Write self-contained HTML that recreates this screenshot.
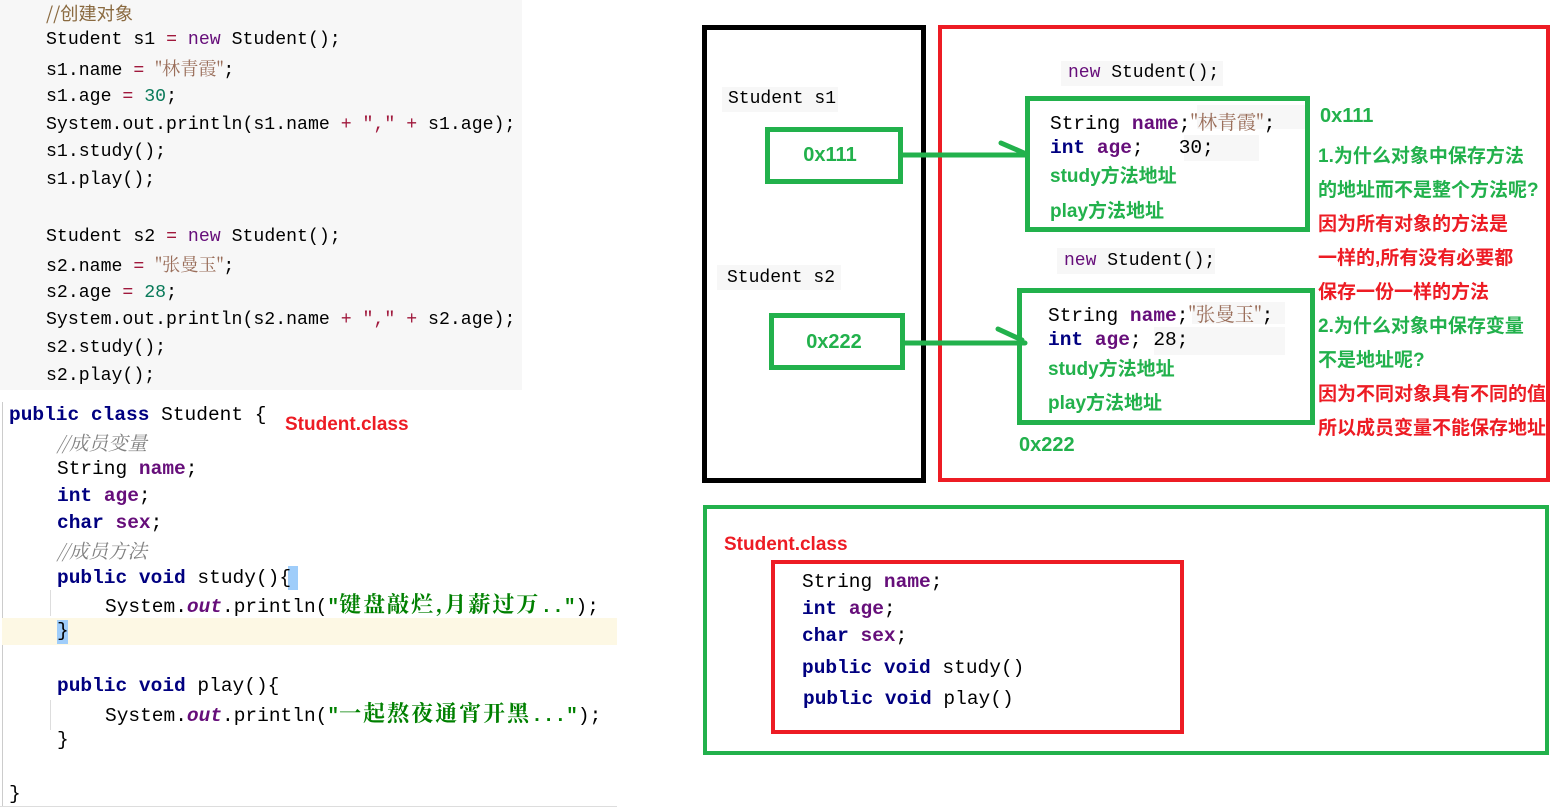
<!DOCTYPE html>
<html><head><meta charset="utf-8"><style>
body{margin:0;width:1568px;height:811px;background:#fff;position:relative;overflow:hidden;font-family:"Liberation Mono","Noto Sans CJK SC",monospace}
.a{position:absolute;white-space:pre}
.c1{font-size:18.2px;line-height:22px;color:#000}
.c2{font-size:19.5px;line-height:24px;color:#000}
.kw{color:#000080;font-weight:bold}
.pu{color:#660e7a}
.pub{color:#660e7a;font-weight:bold}
.st{color:#9a6e5a;font-family:"Noto Serif CJK SC","Liberation Mono",serif}
.num{color:#0a7a5a}
.op{color:#a0183c}
.cm{color:#8a6a40}
.ci{color:#808080;font-style:italic;font-family:"Noto Serif CJK SC","Liberation Mono",serif}
.gs{color:#008000;font-weight:bold}
.gz{font-family:"Noto Serif CJK SC",serif;font-size:22px;letter-spacing:2px}
.g{color:#22b14c;font-weight:bold;font-family:"Liberation Sans","Noto Sans CJK SC",sans-serif}
.r{color:#ed1c24;font-weight:bold;font-family:"Liberation Sans","Noto Sans CJK SC",sans-serif}
.box{position:absolute;box-sizing:border-box}
.gb{background:#f7f7f7}
</style></head><body>
<div class="box" style="left:0;top:0;width:522px;height:390px;background:#f7f7f7"></div>
<div class="a c1" style="left:46px;top:2px"><span class="cm" style="font-family:'Noto Sans CJK SC',sans-serif">//创建对象</span></div>
<div class="a c1" style="left:46px;top:29px">Student s1 <span class="op">=</span> <span class="pu">new</span> Student();</div>
<div class="a c1" style="left:46px;top:57px">s1.name <span class="op">=</span> <span class="st">"林青霞"</span>;</div>
<div class="a c1" style="left:46px;top:86px">s1.age <span class="op">=</span> <span class="num">30</span>;</div>
<div class="a c1" style="left:46px;top:114px">System.out.println(s1.name <span class="op">+</span> <span class="op">","</span> <span class="op">+</span> s1.age);</div>
<div class="a c1" style="left:46px;top:141px">s1.study();</div>
<div class="a c1" style="left:46px;top:169px">s1.play();</div>
<div class="a c1" style="left:46px;top:226px">Student s2 <span class="op">=</span> <span class="pu">new</span> Student();</div>
<div class="a c1" style="left:46px;top:253px">s2.name <span class="op">=</span> <span class="st">"张曼玉"</span>;</div>
<div class="a c1" style="left:46px;top:282px">s2.age <span class="op">=</span> <span class="num">28</span>;</div>
<div class="a c1" style="left:46px;top:309px">System.out.println(s2.name <span class="op">+</span> <span class="op">","</span> <span class="op">+</span> s2.age);</div>
<div class="a c1" style="left:46px;top:337px">s2.study();</div>
<div class="a c1" style="left:46px;top:365px">s2.play();</div>

<div class="box" style="left:2px;top:402px;width:1px;height:404px;background:#ccc"></div>
<div class="box" style="left:0;top:806px;width:617px;height:1px;background:#ddd"></div>
<div class="box" style="left:2px;top:618px;width:615px;height:27px;background:#fdf8e4"></div>
<div class="box" style="left:57px;top:620px;width:11px;height:24px;background:#9fcdfa"></div>
<div class="box" style="left:288px;top:566px;width:10px;height:24px;background:#9fcdfa"></div>
<div class="box" style="left:50px;top:590px;width:1px;height:26px;background:#ddd"></div>
<div class="box" style="left:50px;top:700px;width:1px;height:30px;background:#ddd"></div>
<div class="a c2" style="left:9px;top:403px"><span class="kw">public class</span> Student {</div>
<div class="a r" style="left:285px;top:414px;font-size:19px">Student.class</div>
<div class="a c2" style="left:57px;top:430px"><span class="ci">//成员变量</span></div>
<div class="a c2" style="left:57px;top:457px">String <span class="pub">name</span>;</div>
<div class="a c2" style="left:57px;top:484px"><span class="kw">int</span> <span class="pub">age</span>;</div>
<div class="a c2" style="left:57px;top:511px"><span class="kw">char</span> <span class="pub">sex</span>;</div>
<div class="a c2" style="left:57px;top:538px"><span class="ci">//成员方法</span></div>
<div class="a c2" style="left:57px;top:566px"><span class="kw">public void</span> study(){</div>
<div class="a c2" style="left:105px;top:592px">System.<span class="pub" style="font-style:italic">out</span>.println(<span class="gs">"<span class="gz">键盘敲烂,月薪过万</span>.."</span>);</div>
<div class="a c2" style="left:57px;top:619px">}</div>
<div class="a c2" style="left:57px;top:674px"><span class="kw">public void</span> play(){</div>
<div class="a c2" style="left:105px;top:701px">System.<span class="pub" style="font-style:italic">out</span>.println(<span class="gs">"<span class="gz">一起熬夜通宵开黑</span>..."</span>);</div>
<div class="a c2" style="left:57px;top:728px">}</div>
<div class="a c2" style="left:9px;top:782px">}</div>

<div class="box" style="left:702px;top:25px;width:224px;height:458px;border:5px solid #000"></div>
<div class="box" style="left:938px;top:25px;width:612px;height:457px;border:4px solid #ed1c24"></div>
<div class="box gb" style="left:722px;top:87px;width:116px;height:25px"></div>
<div class="a c1" style="left:728px;top:88px;font-size:18px">Student s1</div>
<div class="box gb" style="left:717px;top:265px;width:124px;height:25px"></div>
<div class="a c1" style="left:727px;top:267px;font-size:18px">Student s2</div>
<div class="box" style="left:765px;top:127px;width:138px;height:57px;border:5px solid #22b14c"></div>
<div class="a g" style="left:765px;top:144px;width:130px;text-align:center;font-size:20px">0x111</div>
<div class="box" style="left:769px;top:313px;width:136px;height:57px;border:5px solid #22b14c"></div>
<div class="a g" style="left:769px;top:331px;width:130px;text-align:center;font-size:20px">0x222</div>

<svg class="a" style="left:0;top:0" width="1568" height="811">
<g stroke="#22b14c" stroke-width="5" stroke-linecap="round" fill="none">
<line x1="903" y1="155" x2="1025" y2="155"/>
<line x1="1001" y1="143" x2="1024" y2="153"/>
<line x1="905" y1="343" x2="1025" y2="343"/>
<line x1="998" y1="329" x2="1022" y2="340"/>
</g></svg>

<div class="box gb" style="left:1061px;top:61px;width:162px;height:25px"></div>
<div class="a c1" style="left:1068px;top:62px;font-size:18px"><span class="pu">new</span> Student();</div>
<div class="box gb" style="left:1057px;top:248px;width:158px;height:26px"></div>
<div class="a c1" style="left:1064px;top:250px;font-size:18px"><span class="pu">new</span> Student();</div>

<div class="box" style="left:1025px;top:96px;width:285px;height:136px;border:5px solid #22b14c"></div>
<div class="box gb" style="left:1197px;top:105px;width:108px;height:24px"></div>
<div class="box gb" style="left:1184px;top:135px;width:75px;height:26px"></div>
<div class="a c2" style="left:1050px;top:109px">String <span class="pub">name</span>;<span class="st" style="font-weight:normal">"林青霞"</span>;</div>
<div class="a c2" style="left:1050px;top:136px"><span class="kw">int</span> <span class="pub">age</span>;   30;</div>
<div class="a g" style="left:1050px;top:161px;font-size:19px">study方法地址</div>
<div class="a g" style="left:1050px;top:196px;font-size:19px">play方法地址</div>

<div class="box" style="left:1017px;top:288px;width:298px;height:137px;border:5px solid #22b14c"></div>
<div class="box gb" style="left:1192px;top:302px;width:93px;height:22px"></div>
<div class="box gb" style="left:1154px;top:327px;width:131px;height:28px"></div>
<div class="a c2" style="left:1048px;top:301px">String <span class="pub">name</span>;<span class="st" style="font-weight:normal">"张曼玉"</span>;</div>
<div class="a c2" style="left:1048px;top:328px"><span class="kw">int</span> <span class="pub">age</span>; 28;</div>
<div class="a g" style="left:1048px;top:354px;font-size:19px">study方法地址</div>
<div class="a g" style="left:1048px;top:388px;font-size:19px">play方法地址</div>
<div class="a g" style="left:1019px;top:434px;font-size:20px">0x222</div>

<div class="a g" style="left:1320px;top:105px;font-size:20px">0x111</div>
<div class="a g" style="left:1318px;top:141px;font-size:19px">1.为什么对象中保存方法</div>
<div class="a g" style="left:1318px;top:175px;font-size:19px">的地址而不是整个方法呢?</div>
<div class="a r" style="left:1318px;top:209px;font-size:19px">因为所有对象的方法是</div>
<div class="a r" style="left:1318px;top:243px;font-size:19px">一样的,所有没有必要都</div>
<div class="a r" style="left:1318px;top:277px;font-size:19px">保存一份一样的方法</div>
<div class="a g" style="left:1318px;top:311px;font-size:19px">2.为什么对象中保存变量</div>
<div class="a g" style="left:1318px;top:345px;font-size:19px">不是地址呢?</div>
<div class="a r" style="left:1318px;top:379px;font-size:19px;width:229px;overflow:hidden">因为不同对象具有不同的值</div>
<div class="a r" style="left:1318px;top:413px;font-size:19px;width:229px;overflow:hidden">所以成员变量不能保存地址</div>

<div class="box" style="left:703px;top:505px;width:846px;height:250px;border:4px solid #22b14c"></div>
<div class="a r" style="left:724px;top:534px;font-size:19px">Student.class</div>
<div class="box" style="left:771px;top:560px;width:413px;height:174px;border:4px solid #ed1c24"></div>
<div class="a c2" style="left:802px;top:570px">String <span class="pub">name</span>;</div>
<div class="a c2" style="left:802px;top:597px"><span class="kw">int</span> <span class="pub">age</span>;</div>
<div class="a c2" style="left:802px;top:624px"><span class="kw">char</span> <span class="pub">sex</span>;</div>
<div class="a c2" style="left:802px;top:656px"><span class="kw">public void</span> study()</div>
<div class="a c2" style="left:803px;top:687px"><span class="kw">public void</span> play()</div>
</body></html>
